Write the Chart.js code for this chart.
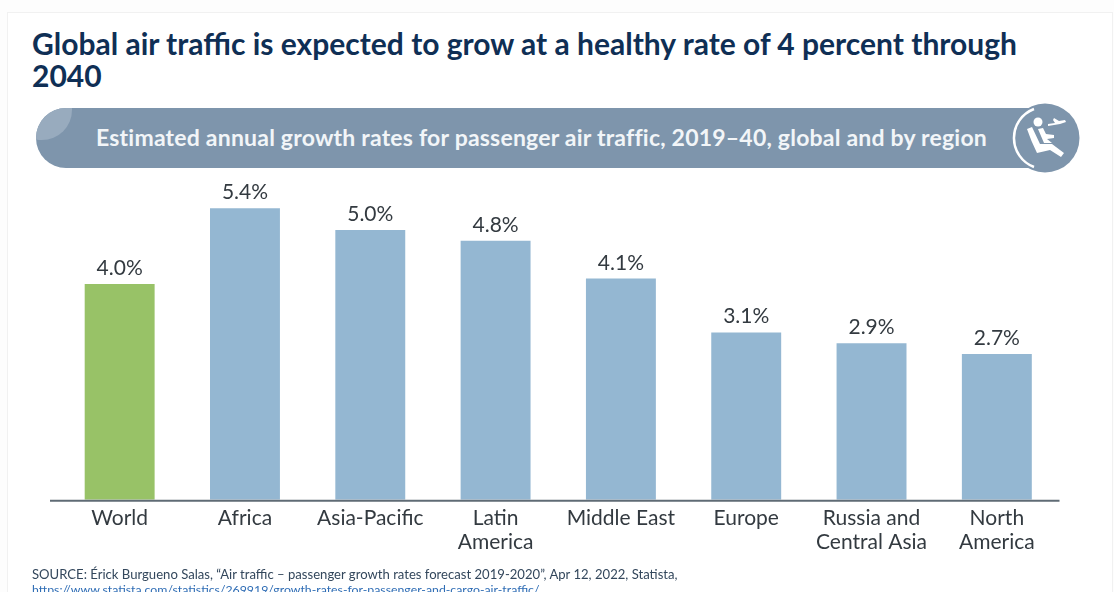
<!DOCTYPE html>
<html>
<head>
<meta charset="utf-8">
<title>Global air traffic</title>
<script src="https://cdn.jsdelivr.net/npm/chart.js@4/dist/chart.umd.min.js"></script>
<style>
  html, body { margin: 0; padding: 0; background: #fdfdfd; }
  #page { position: relative; width: 1114px; height: 592px; overflow: hidden; font-family: Lato, sans-serif; }
  #card { position: absolute; left: 7px; top: 12px; width: 1106px; height: 600px; background: #fff; border: 1px solid #f1f1f1; box-sizing: border-box; }
  #heading { position: absolute; left: 32px; top: 27px; width: 1010px; margin: 0; font-size: 30px; line-height: 32px; font-weight: 700; color: #0f2f55; }
  #pill { position: absolute; left: 36px; top: 108px; width: 1010px; height: 60px; border-radius: 30px 0 0 30px; background: #7e95ac; overflow: hidden; }
  #pill i { position: absolute; left: -24px; top: -28px; width: 60px; height: 60px; border-radius: 50%; background: #98abbe; }
  #pillText { position: absolute; left: 60px; top: 15px; font-size: 23px; line-height: 28px; font-weight: 700; letter-spacing: 0.21px; color: #f2f5f8; white-space: nowrap; }
  #icon { position: absolute; left: 1010px; top: 103px; }
  #chart { position: absolute; left: 0; top: 0; }
  #source { position: absolute; left: 32px; top: 567px; font-size: 13.1px; line-height: 15px; color: #33475c; white-space: nowrap; }
  #source a { font-size: 12.3px; color: #2f6db5; text-decoration: none; }
</style>
</head>
<body>
<div id="page">
  <div id="card"></div>
  <h1 id="heading">Global air traffic is expected to grow at a healthy rate of 4 percent through 2040</h1>
  <div id="pill"><i></i><div id="pillText">Estimated annual growth rates for passenger air traffic, 2019–40, global and by region</div></div>
  <svg id="icon" width="70" height="70" viewBox="0 0 70 70">
    <circle cx="35" cy="35" r="34.5" fill="#7e95ac"/>
    <path d="M24 6 A31 31 0 0 0 24 64" fill="none" stroke="#fff" stroke-width="2.5"/>
    <circle cx="28" cy="19" r="4.5" fill="#fff"/>
    <path d="M17 26 L22 24 L30 41 L42 41 L54 50 L51 54 L40 47 L27 50 Q21 38 17 26 Z" fill="#fff"/>
    <path d="M28 26 L33 25 L36 31 L44 32 L44 35 L37 36 L42 40 L34 40 Z" fill="#fff"/>
    <path d="M38 23 L50 21 L56 19 L55 17 L49 18 L44 15 L43 17 L45 20 L38 21 Z" fill="#fff"/>
  </svg>
  <canvas id="chart" width="1114" height="592"></canvas>
  <div id="source">SOURCE: Érick Burgueno Salas, “Air traffic – passenger growth rates forecast 2019-2020”, Apr 12, 2022, Statista,<br><a>https://www.statista.com/statistics/269919/growth-rates-for-passenger-and-cargo-air-traffic/</a></div>
</div>
<script>
const regions = ["World", "Africa", "Asia-Pacific", ["Latin", "America"], "Middle East", "Europe", ["Russia and", "Central Asia"], ["North", "America"]];
const growthRates = [4.0, 5.4, 5.0, 4.8, 4.1, 3.1, 2.9, 2.7];
const barColors = ["#98c267", "#94b7d2", "#94b7d2", "#94b7d2", "#94b7d2", "#94b7d2", "#94b7d2", "#94b7d2"];

// Valores em cima das barras e linha de base que avança um pouco à esquerda
const barLabels = {
  id: "barLabels",
  afterDatasetsDraw(chart) {
    const { ctx, chartArea, scales } = chart;
    ctx.save();
    ctx.strokeStyle = "#5f6b75";
    ctx.lineWidth = 2;
    ctx.beginPath();
    ctx.moveTo(chartArea.left - 7, chartArea.bottom + 1);
    ctx.lineTo(chartArea.right, chartArea.bottom + 1);
    ctx.stroke();

    ctx.fillStyle = "#333a40";
    ctx.font = "21px Lato, sans-serif";
    ctx.textAlign = "center";
    ctx.textBaseline = "alphabetic";
    chart.getDatasetMeta(0).data.forEach((bar, i) => {
      ctx.fillText(growthRates[i].toFixed(1) + "%", bar.x, scales.y.getPixelForValue(growthRates[i]) - 9);
    });
    ctx.restore();
  },
};

new Chart(document.getElementById("chart"), {
  type: "bar",
  data: {
    labels: regions,
    datasets: [
      {
        data: growthRates,
        backgroundColor: barColors,
        borderWidth: 0,
        categoryPercentage: 1,
        barPercentage: 0.558,
      },
    ],
  },
  options: {
    responsive: false,
    animation: false,
    layout: { padding: { left: 57, right: 54.5, top: 176, bottom: 40 } },
    plugins: { legend: { display: false }, tooltip: { enabled: false } },
    scales: {
      x: {
        grid: { display: false },
        border: { display: false },
        ticks: {
          color: "#333a40",
          font: { family: "Lato, sans-serif", size: 21, lineHeight: 1.15 },
          padding: -2,
          maxRotation: 0,
          autoSkip: false,
        },
      },
      y: {
        display: false,
        min: 0,
        max: 6,
      },
    },
  },
  plugins: [barLabels],
});
</script>
</body>
</html>
